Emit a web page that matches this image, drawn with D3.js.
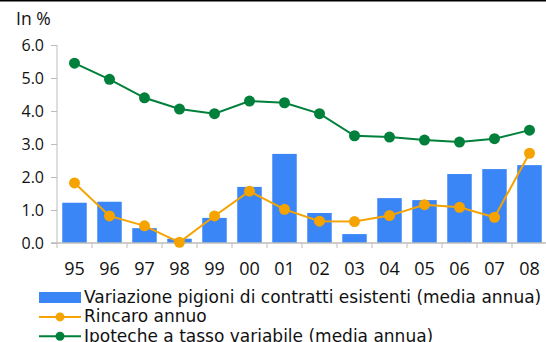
<!DOCTYPE html>
<html>
<head>
<meta charset="utf-8">
<script src="https://cdn.jsdelivr.net/npm/d3@7"></script>
<style>
  html, body { margin: 0; padding: 0; background: #fff; }
  svg { display: block; font-family: "Open Sans", "DejaVu Sans", sans-serif; }
</style>
</head>
<body>
<svg id="chart" width="546" height="342"></svg>
<script>
// Years (two-digit labels)
const years = ["95","96","97","98","99","00","01","02","03","04","05","06","07","08"];
// Variazione pigioni di contratti esistenti (media annua), %
const rentChange = [1.22, 1.25, 0.45, 0.13, 0.76, 1.70, 2.70, 0.91, 0.27, 1.36, 1.30, 2.09, 2.24, 2.36];
// Rincaro annuo, %
const inflation = [1.82, 0.82, 0.52, 0.02, 0.82, 1.57, 1.02, 0.66, 0.65, 0.83, 1.16, 1.08, 0.78, 2.72];
// Ipoteche a tasso variabile (media annua), %
const mortgage = [5.45, 4.96, 4.40, 4.06, 3.92, 4.30, 4.25, 3.92, 3.25, 3.21, 3.12, 3.06, 3.16, 3.42];
// Y axis ticks
const yTicks = [0, 1, 2, 3, 4, 5, 6];

const legendItems = [
  { label: "Variazione pigioni di contratti esistenti (media annua)", type: "bar", color: "#3b86f7" },
  { label: "Rincaro annuo", type: "line", color: "#f5a300" },
  { label: "Ipoteche a tasso variabile (media annua)", type: "line", color: "#00803a" }
];

const svg = d3.select("#chart");
const axisColor = "#bdbdbd";

// top rule
svg.append("line")
  .attr("x1", 0).attr("x2", 546).attr("y1", 0.75).attr("y2", 0.75)
  .attr("stroke", "#000").attr("stroke-width", 1.5);

const x = d3.scaleBand().domain(years).range([57, 547]).paddingInner(0.3).paddingOuter(0.15);
const xb = d3.scaleBand().domain(years).range([57, 547]);
const y = d3.scaleLinear().domain([0, 6]).range([243, 45]);

// unit label
svg.append("text").attr("x", 16).attr("y", 25)
  .attr("font-size", 17.5).attr("fill", "#111").text("In %");

// y axis
const yAxis = svg.append("g").attr("transform", "translate(57,0)")
  .call(d3.axisLeft(y).tickValues(yTicks).tickFormat(d3.format(".1f")).tickSize(6).tickPadding(7));
yAxis.select(".domain").attr("stroke", axisColor).attr("d", `M0,${y(6)}V${y(0)}`);
yAxis.selectAll(".tick line").attr("stroke", axisColor);
yAxis.selectAll(".tick text").attr("font-size", 16).attr("fill", "#111")
  .attr("font-family", "\"Open Sans\", \"DejaVu Sans\", sans-serif");

// bars
svg.append("g").selectAll("rect").data(years).join("rect")
  .attr("x", d => x(d))
  .attr("width", x.bandwidth())
  .attr("y", (d, i) => y(rentChange[i]))
  .attr("height", (d, i) => y(0) - y(rentChange[i]))
  .attr("fill", "#3b86f7");

// x axis
const xAxisG = svg.append("g").attr("transform", `translate(0,${y(0)})`);
xAxisG.append("line").attr("x1", 51).attr("x2", 547).attr("y1", 0).attr("y2", 0)
  .attr("stroke", axisColor).attr("stroke-width", 1.5);
xAxisG.selectAll("line.tk").data(years.map(d => xb(d))).join("line")
  .attr("class", "tk")
  .attr("x1", d => d).attr("x2", d => d).attr("y1", 0).attr("y2", 5)
  .attr("stroke", axisColor);
xAxisG.selectAll("text").data(years).join("text")
  .attr("x", d => xb(d) + xb.bandwidth() / 2)
  .attr("y", 32)
  .attr("text-anchor", "middle")
  .attr("font-size", 18).attr("fill", "#111")
  .text(d => d);

// lines with markers
function series(values, color) {
  const line = d3.line().x((d, i) => xb(years[i]) + xb.bandwidth() / 2).y(d => y(d));
  const g = svg.append("g");
  g.append("path").datum(values).attr("d", line)
    .attr("fill", "none").attr("stroke", color).attr("stroke-width", 2);
  g.selectAll("circle").data(values).join("circle")
    .attr("cx", (d, i) => xb(years[i]) + xb.bandwidth() / 2)
    .attr("cy", d => y(d)).attr("r", 5.5).attr("fill", color);
}
series(mortgage, "#00803a");
series(inflation, "#f5a300");

// legend
const lg = svg.append("g");
legendItems.forEach((item, i) => {
  const cy = 297.5 + i * 19.4;
  if (item.type === "bar") {
    lg.append("rect").attr("x", 39).attr("y", cy - 5.5).attr("width", 42).attr("height", 11).attr("fill", item.color);
  } else {
    lg.append("line").attr("x1", 39).attr("x2", 81).attr("y1", cy).attr("y2", cy)
      .attr("stroke", item.color).attr("stroke-width", 2);
    lg.append("circle").attr("cx", 60).attr("cy", cy).attr("r", 4.5).attr("fill", item.color);
  }
  lg.append("text").attr("x", 84).attr("y", cy + 5.5)
    .attr("font-family", "\"DejaVu Sans\", sans-serif")
    .attr("font-size", 17).attr("fill", "#111").text(item.label);
});
</script>
</body>
</html>
